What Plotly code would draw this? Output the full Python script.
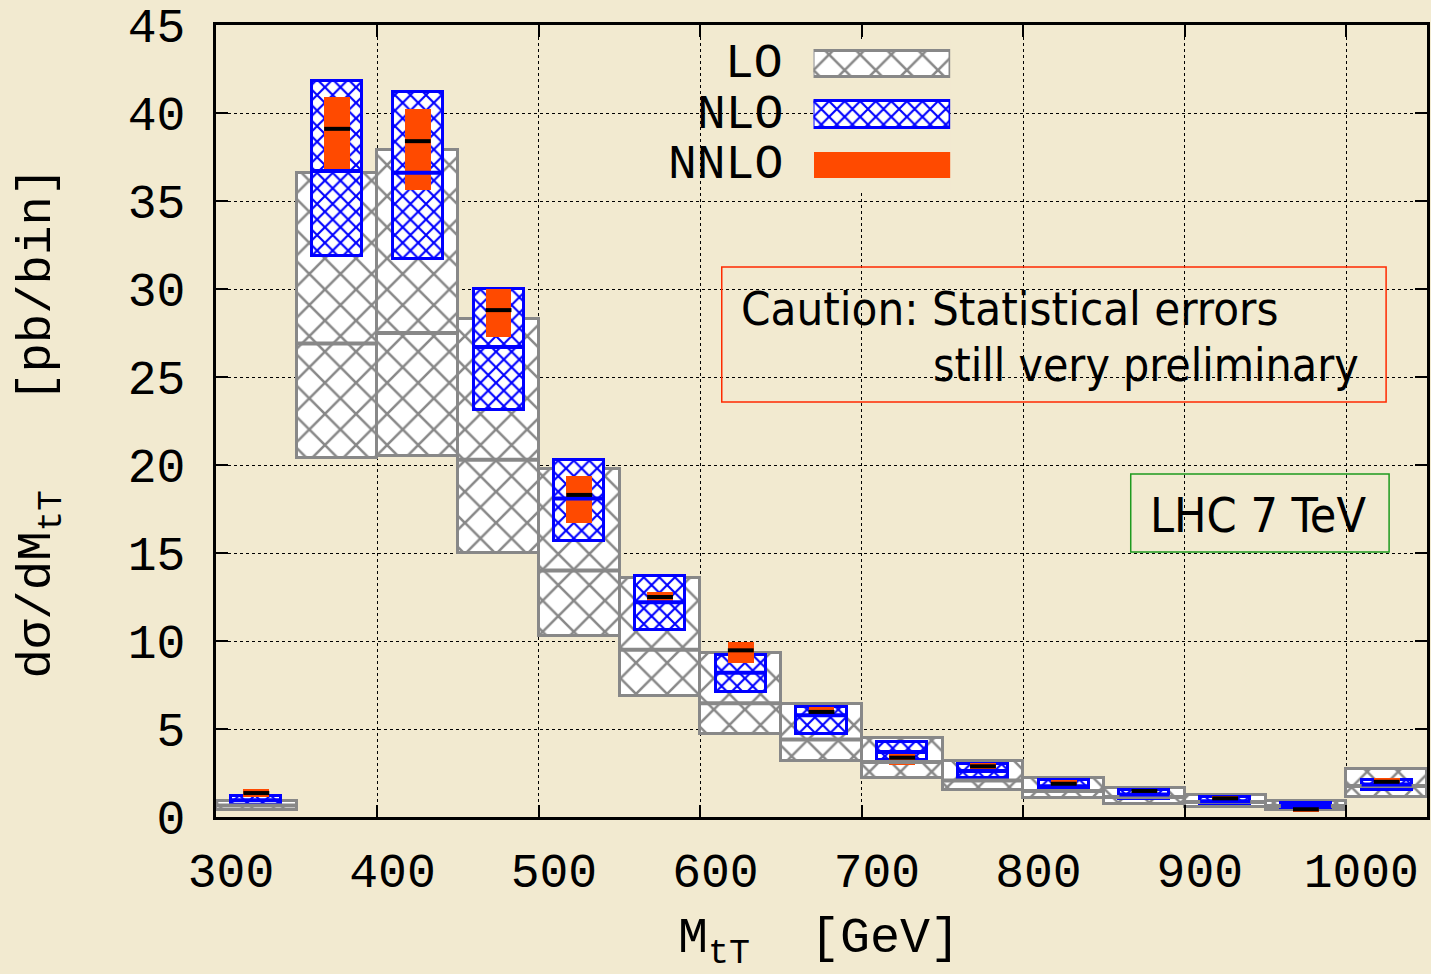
import plotly.graph_objects as go

# ---------------- data ----------------
bin_centers = [325, 375, 425, 475, 525, 575, 625, 675, 725, 775, 825, 875, 925, 975, 1025]
lo_low  = [0.40, 20.4, 20.5, 15.0, 10.3, 6.9, 4.7, 3.2, 2.2, 1.53, 1.10, 0.76, 0.57, 0.38, 1.15]
lo_high = [0.90, 36.6, 37.9, 28.3, 19.75, 13.6, 9.3, 6.44, 4.47, 3.18, 2.23, 1.63, 1.23, 0.91, 2.71]
lo_cent = [0.65, 26.9, 27.5, 20.3, 14.0, 9.5, 6.46, 4.41, 3.12, 2.08, 1.48, 1.14, 0.85, 0.63, 1.76]

nlo_low  = [0.69, 31.9, 31.7, 23.1, 15.7, 10.6, 7.1, 4.73, 3.24, 2.23, 1.52, 1.04, 0.72, 0.49, 1.56]
nlo_high = [1.19, 41.8, 41.2, 30.0, 20.3, 13.7, 9.2, 6.27, 4.28, 3.03, 2.10, 1.53, 1.14, 0.81, 2.08]
nlo_cent = [0.95, 36.7, 36.6, 26.7, 18.1, 12.2, 8.2, 5.78, 3.70, 2.61, 1.75, 1.28, 0.90, 0.63, 1.85]

nnlo_low  = [1.15, 36.6, 35.6, 27.3, 16.7, 12.1, 8.77, 5.68, 2.95, 2.65, 1.70, 1.33, 0.91, 0.30, 1.82]
nnlo_high = [1.57, 40.9, 40.2, 30.0, 19.4, 12.8, 9.94, 6.25, 3.65, 3.09, 2.08, 1.60, 1.20, 0.63, 2.20]
nnlo_cent = [1.36, 39.1, 38.4, 28.8, 18.3, 12.5, 9.47, 5.97, 3.37, 2.88, 1.89, 1.48, 1.06, 0.44, 2.00]

x_ticks = [300, 400, 500, 600, 700, 800, 900, 1000]
y_ticks = [0, 5, 10, 15, 20, 25, 30, 35, 40, 45]
legend_labels = ["LO", "NLO", "NNLO"]

# ---------------- styles ----------------
BG = "#F2EAD0"
GRAY = "#888888"
BLUE = "#0000FF"
ORANGE = "#FF4A00"
MONO = "Liberation Mono, Courier New, monospace"
SANS = "DejaVu Sans Condensed, Liberation Sans Narrow, DejaVu Sans, sans-serif"
NB = "\u00a0"

LO_W, NLO_W, NNLO_W = 50, 31, 16

lo_pattern = dict(shape="x", fgcolor=GRAY, bgcolor="white", size=22, solidity=0.22, fgopacity=1)
nlo_pattern = dict(shape="x", fgcolor=BLUE, bgcolor="white", size=11, solidity=0.35, fgopacity=1)


def seg_xy(centers, values, width):
    xs, ys = [], []
    for c, v in zip(centers, values):
        xs += [c - width / 2, c + width / 2, None]
        ys += [v, v, None]
    return xs, ys


fig = go.Figure()

# LO bands
fig.add_trace(go.Bar(
    x=bin_centers, base=lo_low, y=[h - l for h, l in zip(lo_high, lo_low)],
    width=LO_W, opacity=1,
    marker=dict(color="white", line=dict(color=GRAY, width=3), pattern=lo_pattern),
    showlegend=False, hoverinfo="skip"))
xs, ys = seg_xy(bin_centers, lo_cent, LO_W)
fig.add_trace(go.Scatter(x=xs, y=ys, mode="lines", line=dict(color=GRAY, width=4),
                         showlegend=False, hoverinfo="skip"))

# NLO bands
fig.add_trace(go.Bar(
    x=bin_centers, base=nlo_low, y=[h - l for h, l in zip(nlo_high, nlo_low)],
    width=NLO_W, opacity=1,
    marker=dict(color="white", line=dict(color=BLUE, width=3), pattern=nlo_pattern),
    showlegend=False, hoverinfo="skip"))
xs, ys = seg_xy(bin_centers, nlo_cent, NLO_W)
fig.add_trace(go.Scatter(x=xs, y=ys, mode="lines", line=dict(color=BLUE, width=4),
                         showlegend=False, hoverinfo="skip"))

# NNLO bands
fig.add_trace(go.Bar(
    x=bin_centers, base=nnlo_low, y=[h - l for h, l in zip(nnlo_high, nnlo_low)],
    width=NNLO_W, opacity=1, marker=dict(color=ORANGE, line=dict(width=0)),
    showlegend=False, hoverinfo="skip"))
xs, ys = seg_xy(bin_centers, nnlo_cent, NNLO_W)
fig.add_trace(go.Scatter(x=xs, y=ys, mode="lines", line=dict(color="black", width=4),
                         showlegend=False, hoverinfo="skip"))

# Legend samples (own small axes)
leg_markers = [
    dict(color="white", line=dict(color=GRAY, width=3), pattern=lo_pattern),
    dict(color="white", line=dict(color=BLUE, width=3), pattern=nlo_pattern),
    dict(color=ORANGE, line=dict(width=0)),
]
for i, (lab, mk) in enumerate(zip(legend_labels, leg_markers)):
    fig.add_trace(go.Bar(y=[i], x=[1], base=0, orientation="h", width=0.52, marker=mk,
                         opacity=1, xaxis="x2", yaxis="y2", showlegend=False, hoverinfo="skip"))

# ---------------- layout ----------------
W, H = 1431, 974
L, R, T, B = 216, 1, 25, 157
pw, ph = W - L - R, H - T - B


def px_x(p):
    return (p - L) / pw


def px_y(p):
    return (H - B - p) / ph


annotations = []
leg_rows_px = [64, 114.5, 164.5]
for lab, yy in zip(legend_labels, leg_rows_px):
    annotations.append(dict(text=lab, xref="paper", yref="paper", x=px_x(786), y=px_y(yy),
                            xanchor="right", yanchor="middle", showarrow=False,
                            font=dict(family=MONO, size=48, color="black")))

annotations += [
    dict(text="Caution: Statistical errors", xref="paper", yref="paper",
         x=px_x(740), y=px_y(308), xanchor="left", yanchor="middle", showarrow=False,
         font=dict(family=SANS, size=47, color="black")),
    dict(text="still very preliminary", xref="paper", yref="paper",
         x=px_x(1364), y=px_y(365), xanchor="right", yanchor="middle", showarrow=False,
         font=dict(family=SANS, size=46, color="black")),
    dict(text="LHC 7 TeV", xref="paper", yref="paper",
         x=px_x(1261), y=px_y(515), xanchor="center", yanchor="middle", showarrow=False,
         font=dict(family=SANS, size=48, color="black")),
    dict(text="dσ/dM<sub>tT</sub>" + NB * 3 + "[pb/bin]", xref="paper", yref="paper",
         x=px_x(39), y=px_y(422), xanchor="center", yanchor="middle", textangle=-90,
         showarrow=False, font=dict(family=MONO, size=49, color="black")),
    dict(text="M<sub>tT</sub>" + NB * 2 + "[GeV]", xref="paper", yref="paper",
         x=px_x(820), y=px_y(942), xanchor="center", yanchor="middle",
         showarrow=False, font=dict(family=MONO, size=50, color="black")),
]

shapes = [
    dict(type="rect", xref="paper", yref="paper", x0=px_x(723), x1=px_x(1389),
         y0=px_y(402), y1=px_y(267), line=dict(color="#FF2A00", width=1.5)),
    dict(type="rect", xref="paper", yref="paper", x0=px_x(1133), x1=px_x(1392),
         y0=px_y(552), y1=px_y(474), line=dict(color="#1E9A1E", width=1.5)),
]

fig.update_layout(
    width=W, height=H,
    margin=dict(l=L, r=R, t=T, b=B, pad=0),
    paper_bgcolor=BG, plot_bgcolor=BG,
    barmode="overlay", bargap=0,
    showlegend=False,
    annotations=annotations,
    shapes=shapes,
    xaxis=dict(range=[300, 1050], tickvals=x_ticks, ticktext=[str(v) for v in x_ticks],
               showgrid=True, gridcolor="black", gridwidth=1, griddash="dot",
               showline=True, linecolor="black", linewidth=3, mirror="ticks",
               ticks="inside", ticklen=12, tickwidth=2, tickcolor="black",
               tickfont=dict(family=MONO, size=48, color="black"),
               ticklabelshift=15, ticklabelstandoff=9, zeroline=False),
    yaxis=dict(range=[0, 45], tickvals=y_ticks, ticktext=[str(v) for v in y_ticks],
               showgrid=True, gridcolor="black", gridwidth=1, griddash="dot",
               showline=True, linecolor="black", linewidth=3, mirror="ticks",
               ticks="inside", ticklen=12, tickwidth=2, tickcolor="black",
               tickfont=dict(family=MONO, size=48, color="black"),
               ticklabelstandoff=18, zeroline=False),
    xaxis2=dict(domain=[px_x(815), px_x(952)], range=[0, 1], visible=False,
                anchor="y2", fixedrange=True),
    yaxis2=dict(domain=[px_y(190), px_y(39)], range=[2.5, -0.5], visible=False,
                anchor="x2", fixedrange=True),
)

fig.write_html("out.html", config={"displayModeBar": False},
               post_script="document.body.style.margin='0';document.body.style.background='%s';" % BG)
